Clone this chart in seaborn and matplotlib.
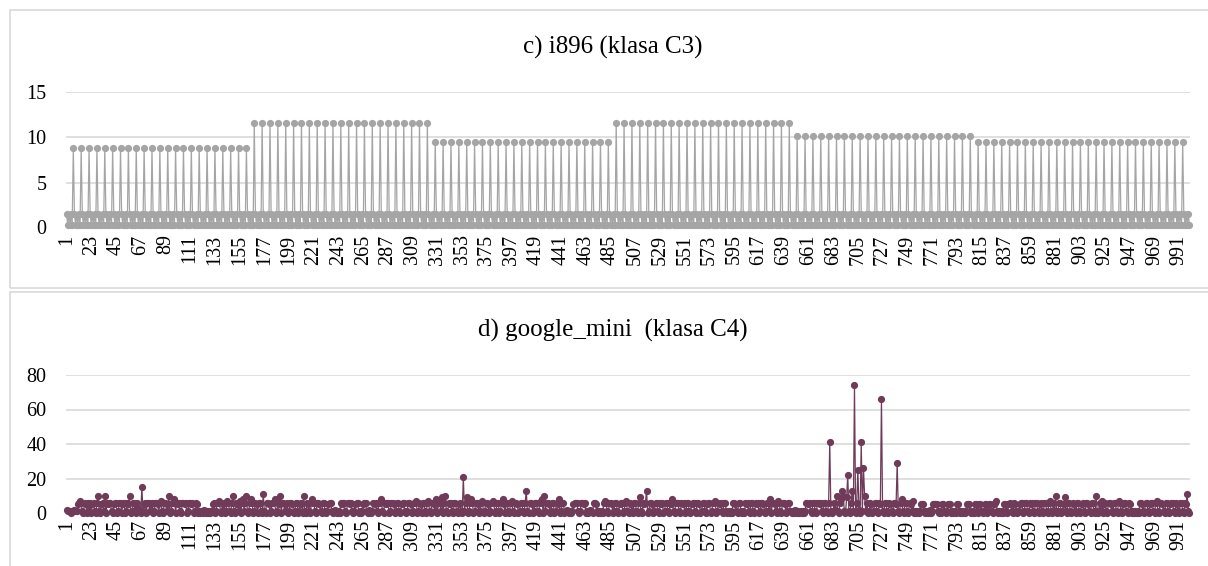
import numpy as np
import pandas as pd
import matplotlib
matplotlib.use('Agg')
import matplotlib.pyplot as plt
from matplotlib.patches import Rectangle
import seaborn as sns

# Dane: i896 (klasa C3), 1000 probek, szczyt co 7 probek
i896 = [
    1.5, 0.3, 1.4, 0.3, 1.5, 0.3, 8.8, 1.5, 0.3, 1.4, 0.3, 1.5, 0.3, 8.8, 1.5, 0.3, 1.4, 0.3, 1.5, 0.3, 8.8, 1.5, 0.3, 1.4, 0.3, 1.5, 0.3, 8.8,
    1.5, 0.3, 1.4, 0.3, 1.5, 0.3, 8.8, 1.5, 0.3, 1.4, 0.3, 1.5, 0.3, 8.8, 1.5, 0.3, 1.4, 0.3, 1.5, 0.3, 8.8, 1.5, 0.3, 1.4, 0.3, 1.5, 0.3, 8.8,
    1.5, 0.3, 1.4, 0.3, 1.5, 0.3, 8.8, 1.5, 0.3, 1.4, 0.3, 1.5, 0.3, 8.8, 1.5, 0.3, 1.4, 0.3, 1.5, 0.3, 8.8, 1.5, 0.3, 1.4, 0.3, 1.5, 0.3, 8.8,
    1.5, 0.3, 1.4, 0.3, 1.5, 0.3, 8.8, 1.5, 0.3, 1.4, 0.3, 1.5, 0.3, 8.8, 1.5, 0.3, 1.4, 0.3, 1.5, 0.3, 8.8, 1.5, 0.3, 1.4, 0.3, 1.5, 0.3, 8.8,
    1.5, 0.3, 1.4, 0.3, 1.5, 0.3, 8.8, 1.5, 0.3, 1.4, 0.3, 1.5, 0.3, 8.8, 1.5, 0.3, 1.4, 0.3, 1.5, 0.3, 8.8, 1.5, 0.3, 1.4, 0.3, 1.5, 0.3, 8.8,
    1.5, 0.3, 1.4, 0.3, 1.5, 0.3, 8.8, 1.5, 0.3, 1.4, 0.3, 1.5, 0.3, 8.8, 1.5, 0.3, 1.4, 0.3, 1.5, 0.3, 8.8,
    1.5, 0.3, 1.4, 0.3, 1.5, 0.3, 11.6, 1.5, 0.3, 1.4, 0.3, 1.5, 0.3, 11.6, 1.5, 0.3, 1.4, 0.3, 1.5, 0.3, 11.6, 1.5, 0.3, 1.4, 0.3, 1.5, 0.3, 11.6,
    1.5, 0.3, 1.4, 0.3, 1.5, 0.3, 11.6, 1.5, 0.3, 1.4, 0.3, 1.5, 0.3, 11.6, 1.5, 0.3, 1.4, 0.3, 1.5, 0.3, 11.6, 1.5, 0.3, 1.4, 0.3, 1.5, 0.3, 11.6,
    1.5, 0.3, 1.4, 0.3, 1.5, 0.3, 11.6, 1.5, 0.3, 1.4, 0.3, 1.5, 0.3, 11.6, 1.5, 0.3, 1.4, 0.3, 1.5, 0.3, 11.6, 1.5, 0.3, 1.4, 0.3, 1.5, 0.3, 11.6,
    1.5, 0.3, 1.4, 0.3, 1.5, 0.3, 11.6, 1.5, 0.3, 1.4, 0.3, 1.5, 0.3, 11.6, 1.5, 0.3, 1.4, 0.3, 1.5, 0.3, 11.6, 1.5, 0.3, 1.4, 0.3, 1.5, 0.3, 11.6,
    1.5, 0.3, 1.4, 0.3, 1.5, 0.3, 11.6, 1.5, 0.3, 1.4, 0.3, 1.5, 0.3, 11.6, 1.5, 0.3, 1.4, 0.3, 1.5, 0.3, 11.6, 1.5, 0.3, 1.4, 0.3, 1.5, 0.3, 11.6,
    1.5, 0.3, 1.4, 0.3, 1.5, 0.3, 11.6, 1.5, 0.3, 1.4, 0.3, 1.5, 0.3, 11.6, 1.5, 0.3, 1.4, 0.3, 1.5, 0.3, 11.6,
    1.5, 0.3, 1.4, 0.3, 1.5, 0.3, 9.5, 1.5, 0.3, 1.4, 0.3, 1.5, 0.3, 9.5, 1.5, 0.3, 1.4, 0.3, 1.5, 0.3, 9.5, 1.5, 0.3, 1.4, 0.3, 1.5, 0.3, 9.5,
    1.5, 0.3, 1.4, 0.3, 1.5, 0.3, 9.5, 1.5, 0.3, 1.4, 0.3, 1.5, 0.3, 9.5, 1.5, 0.3, 1.4, 0.3, 1.5, 0.3, 9.5, 1.5, 0.3, 1.4, 0.3, 1.5, 0.3, 9.5,
    1.5, 0.3, 1.4, 0.3, 1.5, 0.3, 9.5, 1.5, 0.3, 1.4, 0.3, 1.5, 0.3, 9.5, 1.5, 0.3, 1.4, 0.3, 1.5, 0.3, 9.5, 1.5, 0.3, 1.4, 0.3, 1.5, 0.3, 9.5,
    1.5, 0.3, 1.4, 0.3, 1.5, 0.3, 9.5, 1.5, 0.3, 1.4, 0.3, 1.5, 0.3, 9.5, 1.5, 0.3, 1.4, 0.3, 1.5, 0.3, 9.5, 1.5, 0.3, 1.4, 0.3, 1.5, 0.3, 9.5,
    1.5, 0.3, 1.4, 0.3, 1.5, 0.3, 9.5, 1.5, 0.3, 1.4, 0.3, 1.5, 0.3, 9.5, 1.5, 0.3, 1.4, 0.3, 1.5, 0.3, 9.5, 1.5, 0.3, 1.4, 0.3, 1.5, 0.3, 9.5,
    1.5, 0.3, 1.4, 0.3, 1.5, 0.3, 9.5, 1.5, 0.3, 1.4, 0.3, 1.5, 0.3, 9.5, 1.5, 0.3, 1.4, 0.3, 1.5, 0.3, 9.5,
    1.5, 0.3, 1.4, 0.3, 1.5, 0.3, 11.6, 1.5, 0.3, 1.4, 0.3, 1.5, 0.3, 11.6, 1.5, 0.3, 1.4, 0.3, 1.5, 0.3, 11.6, 1.5, 0.3, 1.4, 0.3, 1.5, 0.3, 11.6,
    1.5, 0.3, 1.4, 0.3, 1.5, 0.3, 11.6, 1.5, 0.3, 1.4, 0.3, 1.5, 0.3, 11.6, 1.5, 0.3, 1.4, 0.3, 1.5, 0.3, 11.6, 1.5, 0.3, 1.4, 0.3, 1.5, 0.3, 11.6,
    1.5, 0.3, 1.4, 0.3, 1.5, 0.3, 11.6, 1.5, 0.3, 1.4, 0.3, 1.5, 0.3, 11.6, 1.5, 0.3, 1.4, 0.3, 1.5, 0.3, 11.6, 1.5, 0.3, 1.4, 0.3, 1.5, 0.3, 11.6,
    1.5, 0.3, 1.4, 0.3, 1.5, 0.3, 11.6, 1.5, 0.3, 1.4, 0.3, 1.5, 0.3, 11.6, 1.5, 0.3, 1.4, 0.3, 1.5, 0.3, 11.6, 1.5, 0.3, 1.4, 0.3, 1.5, 0.3, 11.6,
    1.5, 0.3, 1.4, 0.3, 1.5, 0.3, 11.6, 1.5, 0.3, 1.4, 0.3, 1.5, 0.3, 11.6, 1.5, 0.3, 1.4, 0.3, 1.5, 0.3, 11.6, 1.5, 0.3, 1.4, 0.3, 1.5, 0.3, 11.6,
    1.5, 0.3, 1.4, 0.3, 1.5, 0.3, 11.6, 1.5, 0.3, 1.4, 0.3, 1.5, 0.3, 11.6, 1.5, 0.3, 1.4, 0.3, 1.5, 0.3, 11.6,
    1.5, 0.3, 1.4, 0.3, 1.5, 0.3, 10.2, 1.5, 0.3, 1.4, 0.3, 1.5, 0.3, 10.2, 1.5, 0.3, 1.4, 0.3, 1.5, 0.3, 10.2, 1.5, 0.3, 1.4, 0.3, 1.5, 0.3, 10.2,
    1.5, 0.3, 1.4, 0.3, 1.5, 0.3, 10.2, 1.5, 0.3, 1.4, 0.3, 1.5, 0.3, 10.2, 1.5, 0.3, 1.4, 0.3, 1.5, 0.3, 10.2, 1.5, 0.3, 1.4, 0.3, 1.5, 0.3, 10.2,
    1.5, 0.3, 1.4, 0.3, 1.5, 0.3, 10.2, 1.5, 0.3, 1.4, 0.3, 1.5, 0.3, 10.2, 1.5, 0.3, 1.4, 0.3, 1.5, 0.3, 10.2, 1.5, 0.3, 1.4, 0.3, 1.5, 0.3, 10.2,
    1.5, 0.3, 1.4, 0.3, 1.5, 0.3, 10.2, 1.5, 0.3, 1.4, 0.3, 1.5, 0.3, 10.2, 1.5, 0.3, 1.4, 0.3, 1.5, 0.3, 10.2, 1.5, 0.3, 1.4, 0.3, 1.5, 0.3, 10.2,
    1.5, 0.3, 1.4, 0.3, 1.5, 0.3, 10.2, 1.5, 0.3, 1.4, 0.3, 1.5, 0.3, 10.2, 1.5, 0.3, 1.4, 0.3, 1.5, 0.3, 10.2, 1.5, 0.3, 1.4, 0.3, 1.5, 0.3, 10.2,
    1.5, 0.3, 1.4, 0.3, 1.5, 0.3, 10.2, 1.5, 0.3, 1.4, 0.3, 1.5, 0.3, 10.2, 1.5, 0.3, 1.4, 0.3, 1.5, 0.3, 10.2,
    1.5, 0.3, 1.4, 0.3, 1.5, 0.3, 9.5, 1.5, 0.3, 1.4, 0.3, 1.5, 0.3, 9.5, 1.5, 0.3, 1.4, 0.3, 1.5, 0.3, 9.5, 1.5, 0.3, 1.4, 0.3, 1.5, 0.3, 9.5,
    1.5, 0.3, 1.4, 0.3, 1.5, 0.3, 9.5, 1.5, 0.3, 1.4, 0.3, 1.5, 0.3, 9.5, 1.5, 0.3, 1.4, 0.3, 1.5, 0.3, 9.5, 1.5, 0.3, 1.4, 0.3, 1.5, 0.3, 9.5,
    1.5, 0.3, 1.4, 0.3, 1.5, 0.3, 9.5, 1.5, 0.3, 1.4, 0.3, 1.5, 0.3, 9.5, 1.5, 0.3, 1.4, 0.3, 1.5, 0.3, 9.5, 1.5, 0.3, 1.4, 0.3, 1.5, 0.3, 9.5,
    1.5, 0.3, 1.4, 0.3, 1.5, 0.3, 9.5, 1.5, 0.3, 1.4, 0.3, 1.5, 0.3, 9.5, 1.5, 0.3, 1.4, 0.3, 1.5, 0.3, 9.5, 1.5, 0.3, 1.4, 0.3, 1.5, 0.3, 9.5,
    1.5, 0.3, 1.4, 0.3, 1.5, 0.3, 9.5, 1.5, 0.3, 1.4, 0.3, 1.5, 0.3, 9.5, 1.5, 0.3, 1.4, 0.3, 1.5, 0.3, 9.5, 1.5, 0.3, 1.4, 0.3, 1.5, 0.3, 9.5,
    1.5, 0.3, 1.4, 0.3, 1.5, 0.3, 9.5, 1.5, 0.3, 1.4, 0.3, 1.5, 0.3, 9.5, 1.5, 0.3, 1.4, 0.3, 1.5, 0.3, 9.5, 1.5, 0.3, 1.4, 0.3, 1.5, 0.3, 9.5,
    1.5, 0.3, 1.4, 0.3, 1.5, 0.3, 9.5, 1.5, 0.3, 1.4, 0.3, 1.5, 0.3, 9.5, 1.5, 0.3, 1.4, 0.3, 1.5, 0.3, 9.5,
    1.5, 0.3, 1.4, 0.3, 1.5, 0.3,
]

# Dane: google_mini (klasa C4), 1000 probek
google_mini = [
    2, 1, 1, 1, 0, 1, 1, 2, 1, 1, 5, 6, 7, 6, 1, 0, 6, 5, 0, 6, 1, 6, 0, 5, 6,
    1, 0, 6, 10, 1, 0, 5, 6, 1, 10, 0, 6, 5, 6, 6, 1, 0, 5, 6, 6, 0, 1, 6, 6, 0,
    5, 6, 0, 1, 6, 5, 10, 0, 1, 6, 6, 2, 0, 6, 3, 1, 0, 15, 1, 5, 6, 0, 6, 6, 1,
    5, 6, 0, 1, 6, 6, 5, 0, 6, 7, 1, 0, 6, 6, 1, 5, 10, 0, 1, 6, 6, 8, 0, 6, 5,
    6, 1, 0, 6, 6, 5, 6, 0, 1, 6, 6, 5, 6, 0, 1, 6, 5, 0, 1, 0, 1, 0, 2, 1, 0,
    1, 0, 1, 0, 1, 5, 6, 0, 1, 6, 6, 7, 0, 1, 5, 6, 0, 1, 7, 6, 1, 0, 6, 10, 1,
    0, 6, 5, 1, 7, 0, 6, 8, 1, 6, 10, 0, 1, 6, 8, 6, 0, 1, 6, 5, 0, 6, 6, 1, 0,
    11, 1, 0, 6, 6, 5, 0, 1, 6, 6, 8, 0, 1, 6, 5, 10, 0, 6, 6, 1, 5, 6, 0, 1, 6,
    6, 5, 0, 1, 6, 6, 0, 1, 5, 6, 0, 10, 1, 0, 6, 5, 1, 0, 8, 6, 6, 1, 0, 6, 6,
    5, 1, 0, 6, 6, 1, 0, 1, 5, 6, 6, 1, 0, 1, 2, 1, 0, 1, 0, 6, 5, 6, 6, 1, 0,
    6, 6, 5, 6, 1, 0, 1, 5, 6, 6, 0, 1, 0, 1, 5, 6, 6, 1, 0, 2, 1, 0, 1, 6, 5,
    6, 1, 0, 6, 6, 8, 1, 0, 6, 5, 6, 6, 0, 1, 6, 6, 5, 0, 1, 6, 6, 1, 0, 5, 6,
    6, 1, 0, 1, 6, 6, 5, 0, 1, 6, 6, 7, 0, 1, 6, 5, 0, 6, 6, 1, 0, 6, 7, 1, 0,
    6, 6, 5, 1, 8, 0, 6, 6, 1, 9, 0, 6, 10, 1, 0, 6, 5, 6, 1, 0, 6, 6, 1, 0, 5,
    6, 1, 0, 21, 1, 6, 9, 0, 1, 6, 8, 6, 0, 1, 6, 6, 5, 0, 1, 6, 7, 0, 1, 6, 6,
    5, 0, 1, 6, 7, 6, 0, 1, 6, 6, 0, 1, 6, 8, 5, 0, 6, 6, 1, 0, 6, 7, 1, 0, 6,
    6, 5, 0, 1, 6, 6, 1, 0, 6, 13, 1, 0, 6, 6, 5, 0, 1, 6, 6, 1, 0, 6, 7, 8, 0,
    10, 1, 6, 6, 5, 0, 1, 6, 6, 0, 1, 6, 5, 8, 0, 1, 6, 6, 0, 1, 2, 1, 0, 1, 0,
    1, 5, 6, 6, 6, 1, 0, 1, 6, 6, 5, 6, 0, 1, 0, 1, 2, 1, 0, 6, 6, 5, 1, 0, 1,
    0, 1, 0, 6, 7, 6, 1, 0, 6, 6, 5, 0, 1, 6, 6, 1, 0, 5, 6, 6, 0, 1, 6, 7, 1,
    0, 6, 5, 1, 0, 6, 6, 1, 0, 6, 9, 1, 0, 6, 5, 6, 13, 0, 1, 6, 6, 5, 0, 1, 6,
    6, 1, 0, 6, 5, 6, 0, 1, 6, 6, 1, 0, 6, 5, 8, 1, 0, 6, 6, 6, 1, 0, 6, 5, 6,
    0, 1, 6, 6, 1, 0, 5, 6, 6, 1, 0, 6, 6, 5, 0, 1, 6, 6, 1, 0, 5, 6, 6, 0, 1,
    6, 6, 7, 0, 1, 6, 5, 6, 1, 0, 6, 6, 1, 0, 1, 0, 1, 0, 6, 6, 5, 1, 0, 6, 6,
    1, 0, 1, 0, 6, 5, 6, 1, 0, 6, 6, 1, 0, 6, 5, 6, 0, 1, 6, 6, 5, 0, 1, 6, 6,
    1, 8, 0, 6, 6, 5, 1, 0, 7, 6, 1, 0, 6, 6, 5, 0, 1, 6, 6, 1, 0, 1, 0, 2, 1,
    0, 1, 0, 1, 0, 1, 0, 1, 6, 6, 5, 6, 1, 0, 6, 6, 1, 0, 6, 6, 5, 6, 1, 0, 6,
    6, 1, 0, 6, 41, 1, 0, 1, 6, 2, 10, 1, 0, 6, 8, 13, 10, 1, 0, 9, 22, 1, 0, 6, 13,
    1, 74, 0, 6, 25, 2, 0, 41, 1, 26, 10, 1, 6, 0, 1, 6, 5, 0, 1, 6, 6, 1, 0, 6, 5,
    66, 1, 0, 6, 6, 1, 0, 6, 5, 1, 0, 6, 6, 5, 29, 1, 0, 6, 8, 1, 0, 6, 6, 1, 0,
    6, 5, 1, 7, 0, 1, 0, 1, 0, 1, 5, 5, 5, 1, 0, 1, 0, 1, 2, 0, 1, 5, 5, 5, 5,
    1, 0, 1, 0, 5, 5, 1, 0, 1, 5, 5, 5, 0, 1, 0, 1, 0, 5, 5, 1, 0, 1, 0, 1, 0,
    1, 5, 5, 5, 1, 0, 1, 0, 5, 5, 1, 0, 5, 5, 1, 0, 1, 5, 5, 0, 1, 5, 5, 1, 0,
    5, 6, 7, 1, 0, 1, 0, 1, 0, 5, 5, 1, 0, 5, 6, 5, 1, 0, 6, 5, 1, 0, 1, 5, 6,
    6, 0, 1, 6, 6, 1, 0, 6, 5, 6, 1, 0, 6, 6, 1, 0, 5, 6, 1, 0, 6, 6, 1, 0, 6,
    7, 1, 0, 6, 1, 10, 0, 1, 6, 6, 0, 1, 5, 9, 1, 0, 6, 6, 1, 0, 6, 5, 1, 0, 6,
    6, 1, 0, 5, 6, 1, 0, 6, 6, 5, 1, 0, 6, 6, 1, 0, 10, 1, 0, 6, 1, 7, 0, 5, 6,
    1, 0, 6, 6, 5, 1, 0, 6, 6, 1, 0, 7, 6, 1, 0, 5, 6, 6, 1, 0, 6, 5, 1, 0, 1,
    0, 1, 0, 1, 0, 6, 6, 5, 1, 0, 6, 6, 1, 0, 5, 6, 6, 1, 0, 6, 7, 1, 0, 6, 6,
    5, 1, 0, 6, 6, 1, 0, 5, 6, 6, 1, 0, 6, 5, 1, 0, 6, 6, 1, 0, 6, 5, 11, 1, 0,
]

tick_labels = [str(v) for v in range(1, 1001, 22)]
top_yticks = [0, 5, 10, 15]
bottom_yticks = [0, 20, 40, 60, 80]

sns.set_theme(style='white')
plt.rcParams['font.family'] = ['Liberation Serif', 'DejaVu Serif']

W, H = 1208, 566
fig = plt.figure(figsize=(W / 100, H / 100), dpi=100)


def px_box(x0, y0, x1, y1):
    # pixel box (from top-left) -> figure fraction [left, bottom, width, height]
    return [x0 / W, 1 - y1 / H, (x1 - x0) / W, (y1 - y0) / H]


# ramki paneli
for (x0, y0, x1, y1) in [(9.5, 10, 1215, 288), (9.5, 292, 1215, 580)]:
    l, b, w, h = px_box(x0, y0, x1, y1)
    fig.patches.append(Rectangle((l, b), w, h, transform=fig.transFigure,
                                 fill=False, edgecolor='#D9D9D9', linewidth=1.2))

panels = [
    dict(values=i896, color='#A5A5A5', box=(66, 92.5, 1190, 227.5), ylim=15,
         yticks=top_yticks, title='c) i896 (klasa C3)', title_y=47),
    dict(values=google_mini, color='#6F3B58', box=(66, 375, 1190, 513), ylim=80,
         yticks=bottom_yticks, title='d) google_mini  (klasa C4)', title_y=330),
]

for p in panels:
    ax = fig.add_axes(px_box(*p['box']))
    df = pd.DataFrame({'probka': np.arange(1, len(p['values']) + 1), 'wartosc': p['values']})
    sns.lineplot(data=df, x='probka', y='wartosc', ax=ax, color=p['color'],
                 linewidth=0.9, marker='o', markersize=5.2, markeredgewidth=0,
                 clip_on=False, zorder=3)
    ax.set_xlim(0.5, len(p['values']) + 0.5)
    ax.set_ylim(0, p['ylim'])
    ax.set_yticks(p['yticks'])
    ax.set_xticks(range(1, 1001, 22))
    ax.set_xticklabels(tick_labels, rotation=90)
    ax.tick_params(axis='x', length=0, pad=5, labelsize=14.5, labelcolor='black')
    ax.tick_params(axis='y', length=0, pad=14, labelsize=14.5, labelcolor='black')
    ax.set_xlabel('')
    ax.set_ylabel('')
    ax.grid(axis='y', color='#D9D9D9', linewidth=1.2)
    ax.grid(axis='x', visible=False)
    ax.set_axisbelow(True)
    for s in ax.spines.values():
        s.set_visible(False)
    ax.set_facecolor('none')
    fig.text(612.5 / W, 1 - p['title_y'] / H, p['title'], ha='center', va='center',
             fontsize=18, color='black')

fig.savefig('out.png', dpi=100)
